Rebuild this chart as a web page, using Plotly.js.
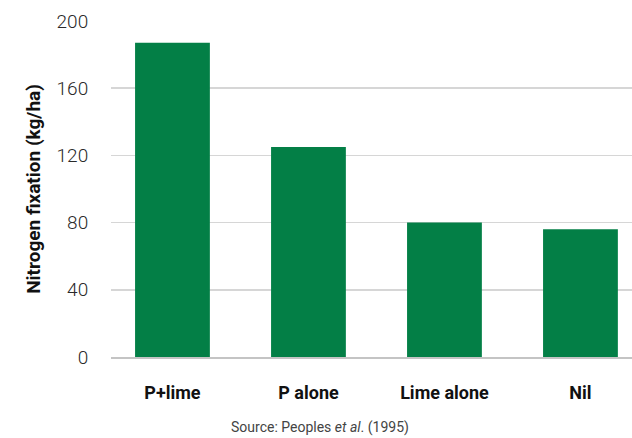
<!DOCTYPE html>
<html>
<head>
<meta charset="utf-8">
<script src="https://cdn.plot.ly/plotly-3.0.1.min.js"></script>
<style>
  html, body { margin: 0; padding: 0; background: #fff; }
  #chart { width: 632px; height: 438px; }
</style>
</head>
<body>
<div id="chart"></div>
<script>
const categories = ["P+lime", "P alone", "Lime alone", "Nil"];
const nitrogenFixation = [187, 125, 80, 76];
const yTickValues = [0, 40, 80, 120, 160, 200];
const yAxisTitle = "Nitrogen fixation (kg/ha)";
const sourceNote = "Source: Peoples <i>et al</i>. (1995)";

const data = [{
  type: "bar",
  x: categories,
  y: nitrogenFixation,
  width: 0.55,
  marker: { color: "#037f46" },
  hoverinfo: "x+y"
}];

const layout = {
  width: 632,
  height: 438,
  margin: { l: 111, r: 0, t: 21, b: 81 },
  paper_bgcolor: "#ffffff",
  plot_bgcolor: "#ffffff",
  showlegend: false,
  font: { family: "Roboto, sans-serif", color: "#222222" },
  xaxis: {
    type: "category",
    range: [-0.452, 3.379],
    showgrid: false,
    showline: true,
    linecolor: "#c4c4c4",
    linewidth: 2,
    ticks: "outside",
    ticklen: 18,
    tickcolor: "rgba(0,0,0,0)",
    tickfont: { family: "Roboto, sans-serif", size: 18, color: "#111111", weight: "bold" },
    fixedrange: true
  },
  yaxis: {
    range: [0, 200],
    tickvals: yTickValues,
    ticktext: yTickValues.map(String),
    showgrid: true,
    gridcolor: "#d6d6d6",
    gridwidth: 1.5,
    zeroline: false,
    showline: false,
    ticks: "outside",
    ticklen: 18,
    tickcolor: "rgba(0,0,0,0)",
    tickfont: { family: "Roboto, sans-serif", size: 19, color: "#2a2a2a", weight: 300 },
    title: {
      text: yAxisTitle,
      font: { family: "Roboto, sans-serif", size: 19, color: "#111111", weight: "bold" },
      standoff: 10
    },
    fixedrange: true
  },
  annotations: [{
    text: sourceNote,
    xref: "paper",
    yref: "paper",
    x: 0.401,
    y: -0.211,
    xanchor: "center",
    yanchor: "middle",
    showarrow: false,
    font: { family: "Roboto, sans-serif", size: 14, color: "#444444" }
  }]
};

Plotly.newPlot("chart", data, layout, { displayModeBar: false, staticPlot: true });
</script>
</body>
</html>
